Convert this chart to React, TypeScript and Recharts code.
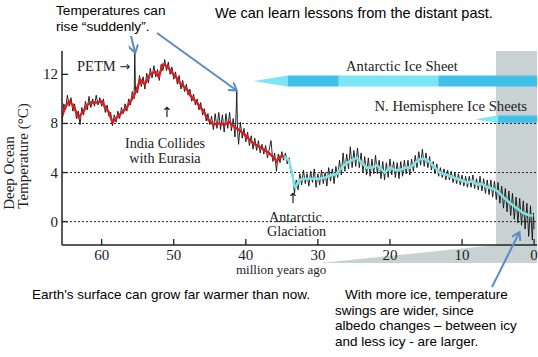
import React from "react";
import { ComposedChart, Line, XAxis, YAxis, ReferenceLine, ReferenceArea } from "recharts";

const serif = "'Liberation Serif', 'Times New Roman', serif";
const sans = "'Liberation Sans', Arial, sans-serif";
const arrowFont = "'DejaVu Sans', sans-serif";

const xTicks = [0, 10, 20, 30, 40, 50, 60];
const yTicks = [0, 4, 8, 12];
const dashedLevels = [0, 4, 8];

// [million years ago, deep ocean temperature °C] — raw record
const rawRecord: [number, number][] = [
  [65.5, 8.0], [65.25, 9.6], [65.0, 9.1], [64.75, 10.3], [64.5, 9.4], [64.25, 10.1], [64.0, 9.0],
  [63.75, 9.6], [63.5, 8.4], [63.25, 9.0], [63.0, 7.9], [62.75, 9.3], [62.5, 8.7], [62.25, 9.8],
  [62.0, 9.1], [61.75, 10.2], [61.5, 9.3], [61.25, 10.0], [61.0, 9.4], [60.75, 10.3], [60.5, 9.5],
  [60.25, 10.1], [60.0, 9.4], [59.75, 10.0], [59.5, 8.9], [59.25, 9.5], [59.0, 8.6], [58.75, 8.9],
  [58.5, 7.8], [58.25, 8.7], [58.0, 8.1], [57.75, 9.0], [57.5, 8.4], [57.25, 9.3], [57.0, 8.8],
  [56.75, 9.6], [56.5, 9.0], [56.25, 10.0], [56.0, 9.5], [55.75, 10.6], [55.5, 10.0], [55.4, 13.8],
  [55.3, 10.4], [55.25, 11.0], [55.0, 10.5], [54.75, 11.9], [54.5, 11.0], [54.25, 11.8], [54.0, 10.8],
  [53.75, 12.1], [53.5, 11.3], [53.25, 12.5], [53.0, 11.7], [52.75, 12.7], [52.5, 11.8], [52.25, 12.4],
  [52.0, 11.5], [51.75, 12.8], [51.5, 12.3], [51.25, 13.2], [51.0, 12.3], [50.75, 13.0], [50.5, 12.0],
  [50.25, 12.6], [50.0, 11.6], [49.75, 12.2], [49.5, 11.2], [49.25, 11.9], [49.0, 10.8], [48.75, 11.5],
  [48.5, 10.6], [48.25, 11.2], [48.0, 10.3], [47.75, 10.8], [47.5, 9.8], [47.25, 10.4], [47.0, 9.5],
  [46.75, 10.0], [46.5, 9.1], [46.25, 9.7], [46.0, 8.7], [45.75, 9.2], [45.5, 8.2], [45.25, 8.8],
  [45.0, 7.9], [44.75, 8.6], [44.5, 7.5], [44.25, 8.8], [44.0, 7.6], [43.75, 8.9], [43.5, 7.5],
  [43.25, 8.7], [43.0, 7.3], [42.75, 8.8], [42.5, 7.6], [42.25, 8.9], [42.0, 7.4], [41.75, 8.4],
  [41.5, 6.9], [41.35, 8.8], [41.25, 10.6], [41.15, 7.5], [41.0, 6.3], [40.75, 8.1], [40.5, 6.8],
  [40.25, 7.6], [40.0, 6.5], [39.75, 7.3], [39.5, 6.2], [39.25, 7.0], [39.0, 5.9], [38.75, 6.8],
  [38.5, 5.8], [38.25, 6.6], [38.0, 5.6], [37.75, 6.3], [37.5, 5.5], [37.25, 6.2], [37.0, 5.2],
  [36.75, 5.9], [36.5, 6.6], [36.25, 4.9], [36.0, 5.6], [35.75, 4.1], [35.5, 5.5], [35.25, 4.8],
  [35.0, 5.7], [34.75, 5.0], [34.5, 5.6], [34.25, 4.7], [34.0, 5.2], [33.75, 4.0], [33.5, 3.9],
  [33.25, 2.3], [33.0, 3.4], [32.75, 2.6], [32.5, 3.9], [32.25, 3.0], [32.0, 4.2], [31.75, 3.1],
  [31.5, 3.9], [31.25, 2.9], [31.0, 4.1], [30.75, 3.2], [30.5, 4.3], [30.25, 2.8], [30.0, 3.9],
  [29.75, 3.0], [29.5, 4.2], [29.25, 3.1], [29.0, 4.0], [28.75, 2.9], [28.5, 4.4], [28.25, 3.3],
  [28.0, 4.3], [27.75, 3.1], [27.5, 4.5], [27.25, 3.6], [27.0, 5.0], [26.75, 3.8], [26.5, 5.6],
  [26.25, 4.1], [26.0, 5.5], [25.75, 4.3], [25.5, 6.1], [25.25, 4.4], [25.0, 5.8], [24.75, 4.5],
  [24.5, 6.0], [24.25, 4.4], [24.0, 5.6], [23.75, 4.0], [23.5, 5.3], [23.25, 3.8], [23.0, 5.2],
  [22.75, 3.7], [22.5, 5.1], [22.25, 3.9], [22.0, 5.4], [21.75, 3.9], [21.5, 5.0], [21.25, 3.5],
  [21.0, 4.9], [20.75, 3.4], [20.5, 4.8], [20.25, 3.6], [20.0, 5.1], [19.75, 3.8], [19.5, 4.9],
  [19.25, 3.6], [19.0, 4.8], [18.75, 3.5], [18.5, 4.9], [18.25, 3.7], [18.0, 5.0], [17.75, 3.9],
  [17.5, 5.0], [17.25, 3.8], [17.0, 5.1], [16.75, 4.1], [16.5, 5.4], [16.25, 4.4], [16.0, 5.7],
  [15.75, 4.6], [15.5, 5.9], [15.25, 4.5], [15.0, 5.6], [14.75, 4.4], [14.5, 5.3], [14.25, 4.2],
  [14.0, 4.9], [13.75, 3.9], [13.5, 4.7], [13.25, 3.7], [13.0, 4.4], [12.75, 3.6], [12.5, 4.3],
  [12.25, 3.4], [12.0, 4.2], [11.75, 3.4], [11.5, 4.1], [11.25, 3.2], [11.0, 4.0], [10.75, 3.1],
  [10.5, 3.9], [10.25, 3.0], [10.0, 3.8], [9.75, 2.9], [9.5, 3.7], [9.25, 2.8], [9.0, 3.7],
  [8.75, 2.8], [8.5, 3.8], [8.25, 2.7], [8.0, 3.5], [7.75, 2.6], [7.5, 3.7], [7.25, 2.5],
  [7.0, 3.5], [6.75, 2.3], [6.5, 3.4], [6.25, 2.2], [6.0, 3.4], [5.75, 2.0], [5.5, 3.3],
  [5.25, 1.8], [5.0, 3.2], [4.75, 1.5], [4.5, 2.9], [4.25, 1.1], [4.0, 2.7], [3.75, 0.8],
  [3.5, 2.5], [3.25, 0.5], [3.0, 2.3], [2.75, 0.2], [2.5, 2.0], [2.25, -0.1], [2.0, 1.9],
  [1.75, -0.3], [1.5, 1.7], [1.25, -0.6], [1.0, 1.5], [0.75, -1.2], [0.5, 1.3], [0.25, -1.5],
  [0.1, 0.7], [0.0, -0.6],
];

// smoothed, before the Antarctic glaciation (red)
const smoothEarly: [number, number][] = [
  [65.5, 8.6], [65.0, 9.4], [64.5, 9.8], [64.0, 9.5], [63.5, 8.9], [63.2, 8.5], [62.5, 9.0],
  [62.0, 9.5], [61.5, 9.7], [60.7, 9.7], [60.0, 9.8], [59.5, 9.3], [59.0, 8.9], [58.5, 8.1],
  [58.0, 8.4], [57.5, 8.7], [57.0, 9.0], [56.5, 9.3], [56.0, 9.8], [55.5, 10.3], [55.0, 10.9],
  [54.7, 11.6], [54.0, 11.2], [53.3, 12.0], [52.6, 12.2], [52.1, 11.8], [51.5, 12.8], [51.0, 12.7],
  [50.3, 12.2], [49.6, 11.7], [49.0, 11.2], [48.2, 10.8], [47.6, 10.2], [46.8, 9.7], [46.0, 9.1],
  [45.2, 8.3], [44.5, 7.9], [43.8, 8.0], [43.0, 7.9], [42.3, 8.1], [41.5, 7.7], [40.8, 7.4],
  [40.0, 7.0], [39.2, 6.5], [38.5, 6.2], [37.8, 6.0], [36.8, 5.6], [36.1, 5.2], [35.7, 4.9],
  [35.3, 5.3], [34.7, 5.3],
];

// smoothed, after the Antarctic glaciation (cyan)
const smoothLate: [number, number][] = [
  [34.7, 5.3], [34.0, 5.0], [33.6, 4.0], [33.3, 3.0], [33.1, 2.8], [32.6, 3.4], [31.8, 3.5],
  [30.8, 3.5], [29.9, 3.5], [29.0, 3.6], [28.1, 3.8], [27.4, 3.9], [26.7, 4.4], [26.0, 4.8],
  [25.3, 5.0], [24.6, 5.2], [23.9, 4.8], [23.2, 4.4], [22.5, 4.4], [21.8, 4.6], [21.1, 4.2],
  [20.7, 4.0], [20.0, 4.4], [19.3, 4.2], [18.6, 4.2], [17.9, 4.4], [17.2, 4.4], [16.5, 4.8],
  [15.8, 5.1], [15.1, 5.1], [14.4, 4.8], [13.75, 4.4], [13.1, 4.0], [12.1, 3.8], [10.7, 3.5],
  [9.3, 3.2], [8.5, 3.3], [7.9, 3.0], [7.3, 3.1], [6.5, 2.8], [5.8, 2.7], [5.1, 2.5],
  [4.3, 2.0], [3.3, 1.5], [2.4, 1.1], [1.5, 0.7], [0.6, 0.5], [0.1, 0.5],
];

// ice sheet time ranges (Myr ago): taper, then alternating tones
const antarcticSheet: [number, number][] = [[39.0, 34.2], [34.2, 27.1], [27.1, 13.3], [13.3, -0.4]];
const northSheet: [number, number][] = [[8.2, 5.0], [5.0, -0.4]];
const recentWindow: [number, number] = [5.3, -0.4];
const zoomWedgeStart = 29.7;

const toRows = (arr: [number, number][]) => arr.map(([age, t]) => ({ age, t }));

const X_DOMAIN: [number, number] = [-0.4, 65.5];
const Y_DOMAIN: [number, number] = [-1.9, 13.9];
const INK = "#222";
const LIGHT = "#7be6f5";
const DARK = "#3fc1ea";
const GRAY = "#c8d2d2";

const BottomTick = (p: any) => (
  <g>
    <line x1={p.x} x2={p.x} y1={p.y} y2={p.y - 6} stroke={INK} strokeWidth={1.3} />
    <text x={p.x} y={p.y + 14.5} textAnchor="middle" fontSize={15} fill={INK} fontFamily={serif}>
      {p.payload.value}
    </text>
  </g>
);
const TopTick = (p: any) => <line x1={p.x} x2={p.x} y1={p.y} y2={p.y + 5} stroke={INK} strokeWidth={1.3} />;
const LeftTick = (p: any) => (
  <g>
    <line x1={p.x} x2={p.x + 6} y1={p.y} y2={p.y} stroke={INK} strokeWidth={1.3} />
    <text x={p.x - 4} y={p.y + 5} textAnchor="end" fontSize={15} fill={INK} fontFamily={serif}>
      {p.payload.value}
    </text>
  </g>
);
const RightTick = (p: any) => <line x1={p.x - 5} x2={p.x} y1={p.y} y2={p.y} stroke={INK} strokeWidth={1.3} />;

const Taper = (p: any) => (
  <polygon points={`${p.x},${p.y + p.height / 2} ${p.x + p.width},${p.y} ${p.x + p.width},${p.y + p.height}`} fill={LIGHT} />
);

const wedgeFrac = (zoomWedgeStart - recentWindow[0]) / (zoomWedgeStart - X_DOMAIN[0]);
const Wedge = (p: any) => (
  <polygon
    points={`${p.x},${p.y + p.height} ${p.x + p.width * wedgeFrac},${p.y} ${p.x + p.width},${p.y} ${p.x + p.width},${p.y + p.height}`}
    fill={GRAY}
  />
);

const Arrow = ({ x1, y1, x2, y2 }: { x1: number; y1: number; x2: number; y2: number }) => (
  <line x1={x1} y1={y1} x2={x2} y2={y2} stroke="#5b8bc7" strokeWidth={2} markerEnd="url(#bluehead)" />
);

export default function App() {
  return (
    <div style={{ position: "absolute", left: 0, top: 0, width: 538, height: 357, background: "#fff", overflow: "hidden" }}>
      <ComposedChart width={538} height={357} margin={{ top: 51, right: 1, bottom: 82, left: 22 }}>
        <XAxis dataKey="age" type="number" domain={X_DOMAIN} reversed allowDataOverflow ticks={xTicks} interval={0}
          height={30} tickSize={0} tickMargin={0} tick={<BottomTick />} axisLine={{ stroke: INK, strokeWidth: 1.5 }} />
        <XAxis xAxisId="top" orientation="top" dataKey="age" type="number" domain={X_DOMAIN} reversed allowDataOverflow
          ticks={xTicks.filter((v) => v > 0)} interval={0} height={0} tickSize={0} tickMargin={0} tick={<TopTick />}
          axisLine={{ stroke: INK, strokeWidth: 1.5 }} />
        <YAxis type="number" domain={Y_DOMAIN} allowDataOverflow ticks={yTicks} interval={0} width={40} tickSize={0}
          tickMargin={0} tick={<LeftTick />} axisLine={{ stroke: INK, strokeWidth: 1.5 }} />
        <YAxis yAxisId="right" orientation="right" type="number" domain={Y_DOMAIN} allowDataOverflow ticks={yTicks}
          interval={0} width={0} tickSize={0} tickMargin={0} tick={<RightTick />} axisLine={{ stroke: INK, strokeWidth: 1.5 }} />

        <ReferenceArea x1={recentWindow[0]} x2={recentWindow[1]} y1={Y_DOMAIN[0]} y2={Y_DOMAIN[1]} fill={GRAY} fillOpacity={1} stroke="none" />
        <ReferenceArea x1={zoomWedgeStart} x2={X_DOMAIN[0]} y1={-3.37} y2={Y_DOMAIN[0]} ifOverflow="visible" shape={<Wedge />} />

        {dashedLevels.map((v) => (
          <ReferenceLine key={v} y={v} stroke={INK} strokeWidth={1} strokeDasharray="2 2" />
        ))}

        {antarcticSheet.map(([a, b], i) =>
          i === 0 ? (
            <ReferenceArea key={"a" + i} x1={a} x2={b} y1={11.0} y2={11.9} shape={<Taper />} />
          ) : (
            <ReferenceArea key={"a" + i} x1={a} x2={b} y1={11.0} y2={11.9} fill={i % 2 ? DARK : LIGHT} fillOpacity={1} stroke="none" />
          )
        )}
        {northSheet.map(([a, b], i) =>
          i === 0 ? (
            <ReferenceArea key={"n" + i} x1={a} x2={b} y1={8.05} y2={8.65} shape={<Taper />} />
          ) : (
            <ReferenceArea key={"n" + i} x1={a} x2={b} y1={8.05} y2={8.65} fill={DARK} fillOpacity={1} stroke="none" />
          )
        )}

        <Line data={toRows(rawRecord)} dataKey="t" type="linear" stroke="#111" strokeWidth={0.9} dot={false} isAnimationActive={false} />
        <Line data={toRows(smoothEarly)} dataKey="t" type="linear" stroke="#e3191b" strokeWidth={2.4} dot={false} isAnimationActive={false} />
        <Line data={toRows(smoothLate)} dataKey="t" type="linear" stroke="#7fe2e4" strokeWidth={2.6} dot={false} isAnimationActive={false} />
      </ComposedChart>

      <svg width={538} height={357} style={{ position: "absolute", left: 0, top: 0, pointerEvents: "none" }}>
        <defs>
          <marker id="bluehead" markerWidth="10" markerHeight="10" refX="7" refY="5" orient="auto" markerUnits="userSpaceOnUse">
            <path d="M0,0 L8,5 L0,10" fill="none" stroke="#5b8bc7" strokeWidth={2} />
          </marker>
        </defs>

        <g fontFamily={sans} fill="#000">
          <text x={56} y={15} fontSize={13.7}>Temperatures can</text>
          <text x={56} y={31} fontSize={13.7}>rise “suddenly”.</text>
          <text x={215} y={18} fontSize={14.5}>We can learn lessons from the distant past.</text>
          <text x={32} y={299} fontSize={13.5}>Earth's surface can grow far warmer than now.</text>
          <text x={345} y={299} fontSize={13.5}>With more ice, temperature</text>
          <text x={335} y={314.5} fontSize={13.5}>swings are wider, since</text>
          <text x={335} y={330} fontSize={13.5}>albedo changes – between icy</text>
          <text x={335} y={346} fontSize={13.5}>and less icy - are larger.</text>
        </g>

        <g fontFamily={serif} fill={INK}>
          <text x={77} y={71} fontSize={14.5}>
            PETM <tspan fontFamily={arrowFont} fontSize={13}>{"\u2192\uFE0E"}</tspan>
          </text>
          <text x={167} y={117} fontSize={14} textAnchor="middle" fontFamily={arrowFont}>{"\u2191\uFE0E"}</text>
          <text x={165} y={148} fontSize={14.2} textAnchor="middle">India Collides</text>
          <text x={165} y={162.5} fontSize={14.2} textAnchor="middle">with Eurasia</text>
          <text x={293} y={203} fontSize={14} textAnchor="middle" fontFamily={arrowFont}>{"\u2191\uFE0E"}</text>
          <text x={269} y={221.5} fontSize={14.2}>Antarctic</text>
          <text x={267} y={236} fontSize={14.2}>Glaciation</text>
          <text x={402} y={71} fontSize={14.6} textAnchor="middle">Antarctic Ice Sheet</text>
          <text x={527} y={111} fontSize={14.7} textAnchor="end">N. Hemisphere Ice Sheets</text>
          <text x={236} y={274} fontSize={13}>million years ago</text>
          <text x={14} y={173} fontSize={15} textAnchor="middle" transform="rotate(-90 14 173)">Deep Ocean</text>
          <text x={28} y={156} fontSize={15} textAnchor="middle" transform="rotate(-90 28 156)">Temperature (°C)</text>
        </g>

        <Arrow x1={131} y1={36} x2={135} y2={52} />
        <Arrow x1={157} y1={33} x2={236} y2={90} />
        <Arrow x1={492} y1={287} x2={519} y2={233} />
      </svg>
    </div>
  );
}
